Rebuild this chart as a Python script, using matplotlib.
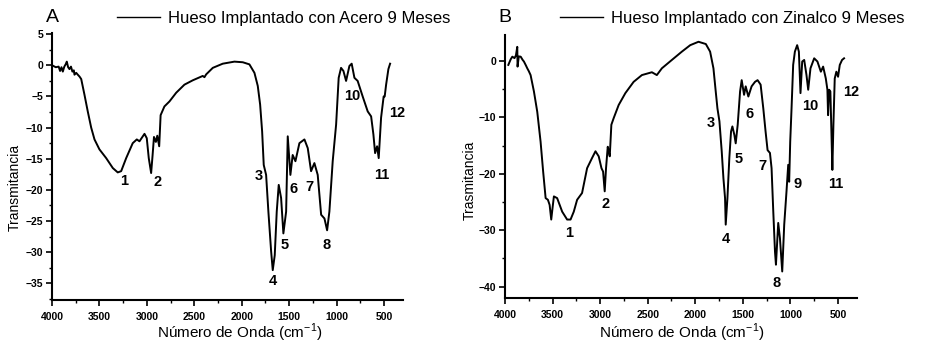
import matplotlib
matplotlib.use("Agg")
import matplotlib.pyplot as plt
from matplotlib.ticker import MultipleLocator

plt.rcParams['font.family'] = ['Liberation Sans', 'DejaVu Sans']

# ---------------- Data: Panel A (Acero) ----------------
wave_A = [3985, 3960, 3930, 3915, 3900, 3886, 3870, 3855, 3844, 3830, 3816, 3800,
          3785, 3770, 3763, 3745, 3728, 3710, 3692, 3658, 3623, 3587, 3552, 3500,
          3429, 3359, 3307, 3271, 3218, 3149, 3106, 3078, 3025, 3001, 2980, 2955,
          2940, 2925, 2905, 2890, 2870, 2855, 2815, 2762, 2691, 2604, 2516, 2411,
          2393, 2375, 2305, 2200, 2077, 1989, 1919, 1866, 1831, 1806, 1785, 1768,
          1743, 1719, 1690, 1673, 1652, 1631, 1610, 1585, 1561, 1532, 1515, 1487,
          1463, 1434, 1392, 1339, 1304, 1269, 1234, 1199, 1163, 1128, 1100, 1076,
          1041, 1005, 978, 953, 928, 900, 865, 841, 812, 778, 725, 672, 636, 612,
          594, 573, 556, 531, 504, 493, 478, 454, 436]
trans_A = [-0.1, -0.3, -0.2, -0.9, -0.3, -1.0, -0.2, 0.2, 0.6, -0.3, -0.6, -0.2,
           -1.0, -0.8, -1.5, -1.2, -1.5, -1.8, -2.2, -4.7, -7.4, -10.0, -11.9, -13.5,
           -14.9, -16.5, -17.2, -17.0, -14.9, -12.5, -11.9, -12.2, -11.0, -11.7, -14.9, -17.3,
           -14.5, -11.5, -12.3, -11.3, -13.0, -8.0, -6.6, -5.8, -4.4, -3.1, -2.4, -1.7,
           -1.9, -1.45, -0.4, 0.27, 0.6, 0.5, 0.16, -1.2, -3.3, -6.3, -10.6, -16.0,
           -17.6, -23.5, -29.9, -32.9, -30.5, -23.5, -19.2, -21.3, -27.0, -23.5, -11.4, -17.6,
           -14.4, -15.4, -12.5, -11.9, -13.3, -17.0, -15.7, -17.6, -24.0, -24.6, -26.5, -23.5,
           -15.4, -9.5, -2.0, -0.4, -0.9, -2.5, -0.1, 0.27, -2.0, -2.5, -5.0, -7.4, -8.2, -11.1,
           -14.1, -13.0, -14.9, -8.4, -5.0, -5.0, -3.1, -0.6, 0.27]

# ---------------- Data: Panel B (Zinalco) ----------------
wave_B = [3965, 3940, 3923, 3900, 3885, 3871, 3868, 3855, 3835, 3815, 3801, 3780,
          3766, 3750, 3731, 3696, 3661, 3626, 3599, 3573, 3549, 3531, 3514, 3500,
          3486, 3452, 3399, 3347, 3311, 3277, 3242, 3190, 3137, 3085, 3049, 3015,
          2986, 2969, 2952, 2938, 2920, 2910, 2899, 2882, 2857, 2805, 2735, 2648,
          2561, 2456, 2404, 2351, 2246, 2141, 2053, 1966, 1889, 1844, 1809, 1785,
          1767, 1746, 1722, 1704, 1687, 1680, 1662, 1642, 1624, 1610, 1589, 1575,
          1554, 1529, 1512, 1487, 1470, 1442, 1408, 1372, 1345, 1313, 1285, 1261,
          1240, 1215, 1198, 1180, 1162, 1152, 1128, 1110, 1086, 1065, 1041, 1023,
          1013, 1002, 988, 971, 953, 929, 911, 894, 876, 855, 831, 813, 789, 750,
          716, 680, 656, 628, 611, 604, 593, 580, 569, 559, 548, 534, 517, 499,
          481, 457, 436]
trans_B = [-0.7, 0.3, 0.76, 0.5, 1.0, 2.5, -1.0, 0.8, 0.76, 0.2, -0.1, -0.8,
           -1.3, -1.8, -2.5, -5.4, -9.0, -14.3, -19.6, -24.3, -24.6, -25.5, -28.1, -26.0,
           -24.0, -24.3, -26.7, -28.1, -28.1, -26.7, -24.6, -23.4, -19.0, -17.2, -16.0, -16.9,
           -19.0, -19.6, -23.1, -19.0, -15.2, -16.0, -16.9, -11.3, -10.1, -7.8, -5.7, -3.7,
           -2.5, -2.0, -2.5, -1.3, 0.18, 1.65, 2.8, 3.4, 3.0, 1.65, -1.3, -5.4,
           -8.4, -10.7, -16.0, -20.8, -24.3, -29.0, -24.3, -17.2, -12.5, -11.6, -13.1, -14.6,
           -11.3, -5.4, -3.4, -6.0, -4.5, -6.3, -4.5, -3.7, -3.4, -4.2, -8.4, -12.5,
           -15.8, -16.3, -19.0, -26.7, -33.8, -36.1, -28.7, -31.4, -37.3, -29.0, -23.1, -18.4,
           -21.4, -14.3, -8.4, -0.7, 1.65, 2.8, 1.65, -5.7, -0.1, 0.18, -2.5, -5.1, -1.3, 0.47,
           -0.1, -1.9, -1.0, -3.1, -5.1, -9.6, -5.1, -5.4, -12.5, -19.3, -11.3, -3.1, -1.9, -2.8,
           -0.7, 0.18, 0.47]

# Peak annotations (label, wavenumber, transmittance)
peaks_A_labels = ["1", "2", "3", "4", "5", "6", "7", "8", "10", "11", "12"]
peaks_A_wave = [3236, 2888, 1824, 1676, 1550, 1455, 1287, 1107, 833, 528, 359]
peaks_A_trans = [-18.5, -18.7, -17.7, -34.7, -28.9, -19.8, -19.5, -28.9, -5.0, -17.6, -7.6]

peaks_B_labels = ["1", "2", "3", "4", "5", "6", "7", "8", "9", "10", "11", "12"]
peaks_B_wave = [3329, 2941, 1841, 1683, 1547, 1432, 1296, 1149, 929, 792, 520, 363]
peaks_B_trans = [-30.4, -25.3, -11.0, -31.5, -17.3, -9.4, -18.6, -39.3, -21.8, -8.0, -21.8, -5.5]

legend_A = "Hueso Implantado con Acero 9 Meses"
legend_B = "Hueso Implantado con Zinalco 9 Meses"
xlabel = "Número de Onda (cm$^{\\mathregular{-1}}$)"
ylabel_A = "Transmitancia"
ylabel_B = "Trasmitancia"

W, H = 926, 346
fig = plt.figure(figsize=(W / 100, H / 100), dpi=100)

def px_axes(l, r, t, b):
    return [l / W, 1 - b / H, (r - l) / W, (b - t) / H]

axA = fig.add_axes(px_axes(52, 403, 33, 300))
axB = fig.add_axes(px_axes(505, 857, 35, 298))

def style(ax, ylim, ymaj, ymin):
    ax.set_xlim(4000, 300)
    ax.set_ylim(*ylim)
    for s in ("top", "right"):
        ax.spines[s].set_visible(False)
    for s in ("left", "bottom"):
        ax.spines[s].set_linewidth(1.5)
    ax.xaxis.set_major_locator(MultipleLocator(500))
    ax.xaxis.set_minor_locator(MultipleLocator(250))
    ax.yaxis.set_major_locator(MultipleLocator(ymaj))
    ax.yaxis.set_minor_locator(MultipleLocator(ymin))
    ax.tick_params(which='major', direction='out', length=4, width=1.2,
                   labelsize=7.5, pad=2.5)
    ax.tick_params(which='minor', direction='out', length=2.2, width=1.0)
    ax.tick_params(axis='x', which='major', pad=5)
    for lab in ax.get_xticklabels() + ax.get_yticklabels():
        lab.set_fontweight('bold')

lineA, = axA.plot(wave_A, trans_A, color='black', lw=1.4, label=legend_A)
lineB, = axB.plot(wave_B, trans_B, color='black', lw=1.4, label=legend_B)

style(axA, (-37.7, 5.2), 5, 2.5)
style(axB, (-42.0, 4.6), 10, 5)

for ax, labs, ws, ts in ((axA, peaks_A_labels, peaks_A_wave, peaks_A_trans),
                         (axB, peaks_B_labels, peaks_B_wave, peaks_B_trans)):
    for lab, w, t in zip(labs, ws, ts):
        ax.text(w, t, lab, ha='center', va='center', fontsize=10.5,
                fontweight='bold', color='black')

# Legends
for ax, line, x0 in ((axA, lineA, 117), (axB, lineB, 560)):
    leg = ax.legend(handles=[line], loc='center left',
                    bbox_to_anchor=(x0 / W, 1 - 18 / H),
                    bbox_transform=fig.transFigure, frameon=False, fontsize=12,
                    handlelength=2.6, handletextpad=0.45, borderpad=0,
                    borderaxespad=0)
    leg.get_lines()[0].set_linewidth(1.0)

# Panel letters
fig.text(52 / W, 1 - 18 / H, "A", ha='center', va='center', fontsize=14)
fig.text(505 / W, 1 - 17 / H, "B", ha='center', va='center', fontsize=14)

# Axis labels
axA.set_xlabel(xlabel, fontsize=11, va='center')
axA.xaxis.set_label_coords(0.536, -0.122)
axA.set_ylabel(ylabel_A, fontsize=10, va='center')
axA.yaxis.set_label_coords(-0.105, 0.423)

axB.set_xlabel(xlabel, fontsize=11, va='center')
axB.xaxis.set_label_coords(0.503, -0.131)
axB.set_ylabel(ylabel_B, fontsize=10, va='center')
axB.yaxis.set_label_coords(-0.099, 0.449)

fig.savefig("out.png", dpi=100, facecolor='white')
